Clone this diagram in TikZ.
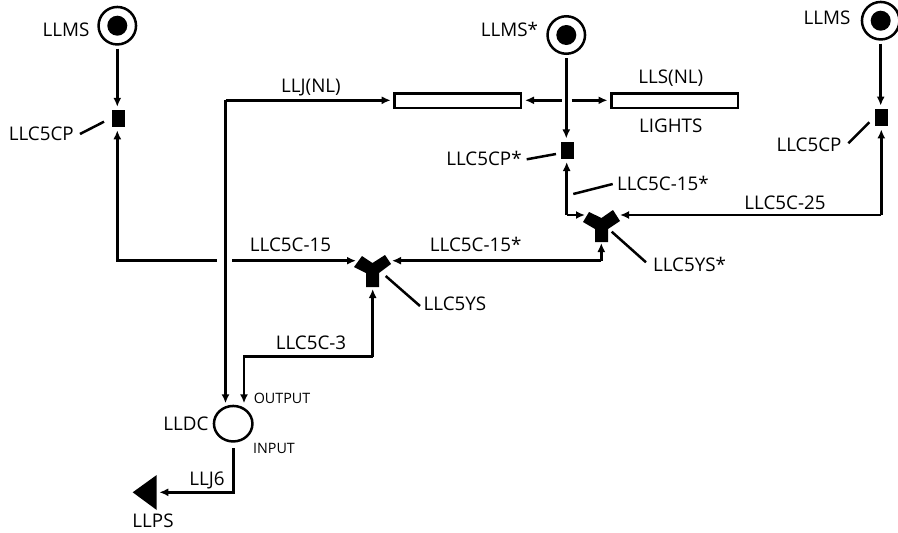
\documentclass[tikz,border=0pt]{standalone}
\usepackage{fontspec}
\setmainfont{Open Sans}
\usetikzlibrary{arrows.meta,shapes.geometric}
\tikzset{
 x=1pt,y=-1pt,
 wire/.style={line width=2.7pt,draw=black},
 arrowwire/.style={wire,-{Latex[length=9pt,width=8pt]}},
 leader/.style={line width=2.5pt,draw=black},
 txt/.style={font=\fontsize{18.8}{20}\selectfont,inner sep=0pt,anchor=center,text height=13pt,text depth=0pt},
 small/.style={font=\fontsize{14.3}{16}\selectfont,inner sep=0pt,anchor=center,text height=10pt,text depth=0pt},
 dot/.style={circle,fill=black,draw=none,minimum size=20pt,inner sep=0pt},
 ring/.style={circle,draw=black,line width=2.5pt,fill=white,minimum size=37.5pt,inner sep=0pt},
 coupler/.style={rectangle,fill=black,draw=none,minimum width=13pt,minimum height=17.3pt,inner sep=0pt},
 lightbar/.style={rectangle,draw=black,line width=2.5pt,fill=white,minimum width=126.5pt,minimum height=14.2pt,inner sep=0pt},
}
\begin{document}
\begin{tikzpicture}
\useasboundingbox (0,0) rectangle (898,533);
% ring sensors
\node[ring] (m1) at (117.3,25.7) {}; \node[dot] at (m1) {};
\node[ring] (m2) at (566.3,35) {}; \node[dot] at (m2) {};
\node[ring] (m3) at (880.7,20.7) {}; \node[dot] at (m3) {};
% couplers
\node[coupler] (c1) at (118.3,118.7) {};
\node[coupler] (c2) at (567.3,150.3) {};
\node[coupler] (c3) at (881.3,117.5) {};
% bars
\node[lightbar] (b1) at (457.5,100.8) {};
\node[lightbar] (b2) at (674.5,100.8) {};
% Y splitters
\fill[black,shift={(372.5,271)}] (-6.5,2) -- (-6.5,16) -- (6.5,16) -- (6.5,2) -- (18.5,-7) -- (12.5,-16) -- (0,-8) -- (-10.5,-15) -- (-18.5,-4) -- cycle;
\fill[black,shift={(601.5,226)}] (-6.5,3) -- (-6.5,16) -- (6.5,16) -- (6.5,3) -- (18.5,-5) -- (11.5,-16) -- (0,-8) -- (-12.5,-14) -- (-18.5,-4) -- cycle;
% converter
\node[ellipse,draw=black,line width=2.5pt,fill=white,minimum width=38.5pt,minimum height=35.5pt,inner sep=0pt] (d) at (233.2,423.7) {};
\fill[black] (132.7,492.3) -- (156.7,475) -- (156.7,510) -- cycle;
% free ends
\coordinate (y1l) at (356,260.7);
\coordinate (y1r) at (392,260.7);
\coordinate (y1b) at (372.7,289);
\coordinate (y2l) at (585,215);
\coordinate (y2r) at (620,215);
\coordinate (y2b) at (601.3,243);
\coordinate (ps) at (159.3,492.3);
% connectors
\draw[arrowwire,shorten <=3pt,shorten >=3pt] (m1.south) -- (m1.south |- c1.north);
\draw[arrowwire,shorten <=3pt,shorten >=3pt] (m2.south) -- (m2.south |- c2.north);
\draw[arrowwire,shorten <=3pt,shorten >=3pt] (m3.south) -- (m3.south |- c3.north);
\draw[arrowwire,shorten >=3pt] (216.7,260.7) -- (117.3,260.7) -- (117.3,127.3);
\draw[arrowwire] (232.3,260.7) -- (y1l);
\draw[arrowwire] (601.3,260.7) -- (y1r);
\draw[arrowwire] (601.3,260.7) -- (y2b);
\draw[arrowwire,shorten >=3pt] (881.3,215) -- (c3.south);
\draw[arrowwire] (881.3,215) -- (y2r);
\draw[arrowwire,shorten >=3pt] (566.7,215) -- (566.7,159);
\draw[arrowwire] (566.7,215) -- (y2l);
\draw[arrowwire] (372.7,356.7) -- (y1b);
\draw[arrowwire] (372.7,356.7) -- (244,356.7) -- (244,403.3);
\draw[arrowwire] (225.5,100.3) -- (390.7,100.3);
\draw[arrowwire] (225.5,100.3) -- (225.5,403.3);
\draw[arrowwire] (561.7,100.3) -- (525,100.3);
\draw[arrowwire] (571.7,100.3) -- (607.5,100.3);
\draw[arrowwire] (233.3,448) -- (233.3,492.3) -- (ps);
% leaders
\draw[leader] (80,134) -- (104,121.7);
\draw[leader] (526.7,159.3) -- (556,154);
\draw[leader] (848.3,143.3) -- (869.3,122.3);
\draw[leader] (573.3,194) -- (612.7,184);
\draw[leader] (385.7,276) -- (420,306);
\draw[leader] (611.7,231.7) -- (646,262.3);
% labels
\node[txt] at (66,30) {LLMS};
\node[txt] at (509.5,30) {LLMS*};
\node[txt] at (827,18) {LLMS};
\node[txt] at (41.3,134) {LLC5CP};
\node[txt] at (484,159) {LLC5CP*};
\node[txt] at (809,145) {LLC5CP};
\node[txt] at (311,86) {LLJ(NL)};
\node[txt] at (670.8,77) {LLS(NL)};
\node[txt] at (670.8,126) {LIGHTS};
\node[txt] at (663,184) {LLC5C-15*};
\node[txt] at (785,203) {LLC5C-25};
\node[txt] at (290.5,245) {LLC5C-15};
\node[txt] at (475.7,245) {LLC5C-15*};
\node[txt] at (455,304) {LLC5YS};
\node[txt] at (689.5,265) {LLC5YS*};
\node[txt] at (311,343) {LLC5C-3};
\node[txt] at (186,424) {LLDC};
\node[small] at (282,398) {OUTPUT};
\node[small] at (274,448) {INPUT};
\node[txt] at (207,479) {LLJ6};
\node[txt] at (153,521) {LLPS};
\end{tikzpicture}
\end{document}
